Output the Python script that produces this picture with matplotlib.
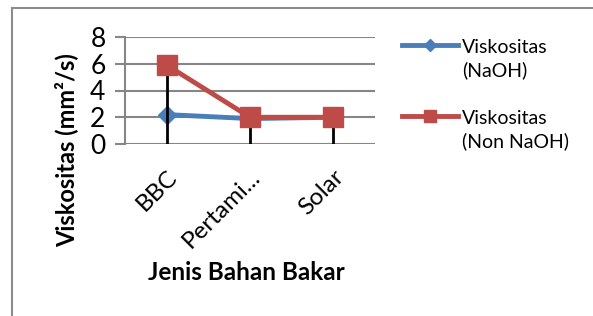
import matplotlib.pyplot as plt
from matplotlib.lines import Line2D

categories = ['BBC', 'Pertami...', 'Solar']
naoh = [2.2, 1.9, 2.0]
non_naoh = [5.9, 2.0, 2.0]
yticks = [0, 2, 4, 6, 8]
legend_labels = ['Viskositas\n(NaOH)', 'Viskositas\n(Non NaOH)']

plt.rcParams['font.family'] = ['Lato', 'DejaVu Sans']

blue = '#4A7EBB'
red = '#BE4B48'
grey = '#868686'
W, H = 593, 316

fig = plt.figure(figsize=(5.93, 3.16), dpi=100)
# chart frame (only left and top edges fall inside the picture)
fig.add_artist(Line2D([12/W, 12/W], [0, 1 - 8/H], color='#8c8c8c', lw=1.5))
fig.add_artist(Line2D([12/W, 1], [1 - 8/H, 1 - 8/H], color='#8c8c8c', lw=1.5))

ax = fig.add_axes([125/W, 1 - 144/H, 250/W, 107/H])
x = [0.5, 1.5, 2.5]
ax.plot(x, naoh, color=blue, lw=3.5, marker='D', markersize=9, zorder=3)
for xi, v in zip(x, non_naoh):
    ax.plot([xi, xi], [0, v], color='black', lw=2, zorder=4)
ax.plot(x, non_naoh, color=red, lw=3.5, marker='s', markersize=14, zorder=5)

ax.set_xlim(0, 3)
ax.set_ylim(0, 8)
ax.set_yticks(yticks)
ax.set_xticks(x)
ax.set_xticklabels(categories, rotation=45, ha='right', rotation_mode='anchor', fontsize=17.5)
ax.tick_params(axis='y', labelsize=19, length=7, width=1.5, color=grey, pad=7)
ax.tick_params(axis='x', which='both', bottom=False, length=0, pad=16)
ax.grid(axis='y', color=grey, lw=1.5)
ax.set_axisbelow(True)
for s in ['top', 'right', 'bottom']:
    ax.spines[s].set_visible(False)
ax.spines['left'].set_color(grey)
ax.spines['left'].set_linewidth(1.5)

fig.text(66/W, 1 - 150/H, 'Viskositas (mm²/s)', rotation=90, ha='center', va='center',
         fontsize=17, fontweight='bold')
fig.text(246/W, 1 - 272/H, 'Jenis Bahan Bakar', ha='center', va='center',
         fontsize=17.5, fontweight='bold')

# legend drawn by hand so the key sits on the first text line
for (ly, col, mk, ms), lab in zip([(45, blue, 'D', 6), (116, red, 's', 9)], legend_labels):
    fig.add_artist(Line2D([402/W, 458/W], [1 - ly/H] * 2, color=col, lw=3.5))
    fig.add_artist(Line2D([430/W], [1 - ly/H], color=col, marker=mk, markersize=ms, lw=0))
    fig.text(462/W, 1 - (ly + 14)/H, lab, ha='left', va='center', fontsize=14, linespacing=1.35)

fig.savefig('out.png', dpi=100)
